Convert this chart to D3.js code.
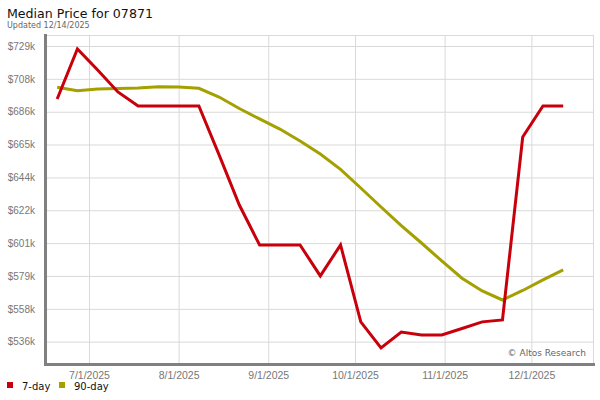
<!DOCTYPE html>
<meta charset="utf-8">
<style>
body { margin: 0; background: #fff; }
svg { font-family: "DejaVu Sans", sans-serif; }
.grid line { stroke: #d9d9d9; }
.grid .domain { display: none; }
.axis text { fill: #777; font-size: 10px; }
.axis.xaxis text { font-size: 10.5px; }
.axis line, .axis .domain { display: none; }
.line { fill: none; stroke-width: 3; stroke-linejoin: miter; }
</style>
<svg width="600" height="400"></svg>
<script src="https://cdn.jsdelivr.net/npm/d3@7"></script>
<script>

var dates = ["6/20/2025", "6/27/2025", "7/4/2025", "7/11/2025", "7/18/2025", "7/25/2025",
  "8/1/2025", "8/8/2025", "8/15/2025", "8/22/2025", "8/29/2025", "9/5/2025", "9/12/2025",
  "9/19/2025", "9/26/2025", "10/3/2025", "10/10/2025", "10/17/2025", "10/24/2025",
  "10/31/2025", "11/7/2025", "11/14/2025", "11/21/2025", "11/28/2025", "12/5/2025", "12/12/2025"];

// thousands of dollars
var day7 = [694.8, 727.5, 713.7, 699.4, 690.3, 690.3, 690.3, 690.3, 658.3, 625.6, 599.5, 599.5, 599.5,
  579.3, 599.5, 549.3, 532.3, 542.7, 540.8, 540.8, 545.0, 549.3, 550.6, 670.0, 690.3, 690.3];

var day90 = [702.5, 700.2, 701.3, 701.7, 702.0, 702.8, 702.6, 701.8, 696.1, 688.6, 681.8, 675.2, 667.4,
  658.9, 648.9, 636.7, 624.3, 612.2, 600.8, 589.1, 577.8, 569.5, 563.6, 569.8, 576.7, 583.2];

var yTicks = [536.4, 557.8, 579.3, 600.7, 622.2, 643.6, 665.1, 686.5, 708.0, 729.4];
var yLabels = ["$536k", "$558k", "$579k", "$601k", "$622k", "$644k", "$665k", "$686k", "$708k", "$729k"];
var xTicks = ["7/1/2025", "8/1/2025", "9/1/2025", "10/1/2025", "11/1/2025", "12/1/2025"];

var parse = d3.timeParse("%m/%d/%Y");

var svg = d3.select("svg"),
    mLeft = 46, mRight = 594, mTop = 35, mBottom = 364;

var x = d3.scaleTime()
    .domain([parse("6/17/2025"), parse("12/23/2025")])
    .range([mLeft + 2.5, mRight + 1]);

var y = d3.scaleLinear()
    .domain([521.8, 736.6])
    .range([mBottom, mTop]);

// grid
svg.append("g")
    .attr("class", "grid")
    .attr("transform", "translate(0," + mBottom + ")")
    .call(d3.axisBottom(x).tickValues(xTicks.map(parse)).tickSize(-(mBottom - mTop)).tickFormat(""));

svg.append("g")
    .attr("class", "grid")
    .attr("transform", "translate(" + mLeft + ",0)")
    .call(d3.axisLeft(y).tickValues(yTicks).tickSize(-(mRight - mLeft)).tickFormat(""));

svg.append("line")
    .attr("x1", mLeft).attr("x2", mRight).attr("y1", mTop + 0.5).attr("y2", mTop + 0.5)
    .attr("stroke", "#d9d9d9");
svg.append("line")
    .attr("x1", mRight - 0.5).attr("x2", mRight - 0.5).attr("y1", mTop).attr("y2", mBottom)
    .attr("stroke", "#d9d9d9");

// axis labels
svg.append("g")
    .attr("class", "axis")
    .attr("transform", "translate(" + (mLeft - 8) + ",0)")
    .call(d3.axisLeft(y).tickValues(yTicks).tickSize(0)
      .tickFormat(function(d, i) { return yLabels[i]; }));

svg.append("g")
    .attr("class", "axis xaxis")
    .attr("transform", "translate(0," + (mBottom + 5) + ")")
    .call(d3.axisBottom(x).tickValues(xTicks.map(parse)).tickSize(0)
      .tickFormat(function(d, i) { return xTicks[i]; }));

// heavy axis bars
svg.append("rect")
    .attr("x", mLeft - 2).attr("y", mTop - 1).attr("width", 3).attr("height", mBottom - mTop + 3)
    .attr("fill", "#808080");
svg.append("rect")
    .attr("x", mLeft - 2).attr("y", mBottom - 1).attr("width", mRight - mLeft + 3).attr("height", 3)
    .attr("fill", "#808080");

var line = d3.line()
    .x(function(d, i) { return x(parse(dates[i])); })
    .y(function(d) { return y(d); });

svg.append("path")
    .datum(day90)
    .attr("class", "line")
    .attr("stroke", "#a3a000")
    .attr("d", line);

svg.append("path")
    .datum(day7)
    .attr("class", "line")
    .attr("stroke", "#c8000c")
    .attr("d", line);

svg.append("text")
    .attr("x", mRight - 8).attr("y", mBottom - 8)
    .attr("text-anchor", "end")
    .attr("font-size", 9)
    .attr("fill", "#666")
    .text("\u00a9 Altos Research");

// titles
svg.append("text")
    .attr("x", 7).attr("y", 18)
    .attr("font-size", 12.6)
    .attr("fill", "#111")
    .text("Median Price for 07871");

svg.append("text")
    .attr("x", 7).attr("y", 28)
    .attr("font-size", 8)
    .attr("fill", "#666")
    .text("Updated 12/14/2025");

// legend
var legend = [["7-day", "#c8000c", 7], ["90-day", "#a3a000", 59]];
var lg = svg.selectAll(".legend")
    .data(legend)
  .enter().append("g")
    .attr("class", "legend")
    .attr("transform", function(d) { return "translate(" + d[2] + ",382)"; });

lg.append("rect")
    .attr("width", 6).attr("height", 6)
    .attr("fill", function(d) { return d[1]; });

lg.append("text")
    .attr("x", 15).attr("y", 8)
    .attr("font-size", 10)
    .attr("fill", "#111")
    .text(function(d) { return d[0]; });

</script>
